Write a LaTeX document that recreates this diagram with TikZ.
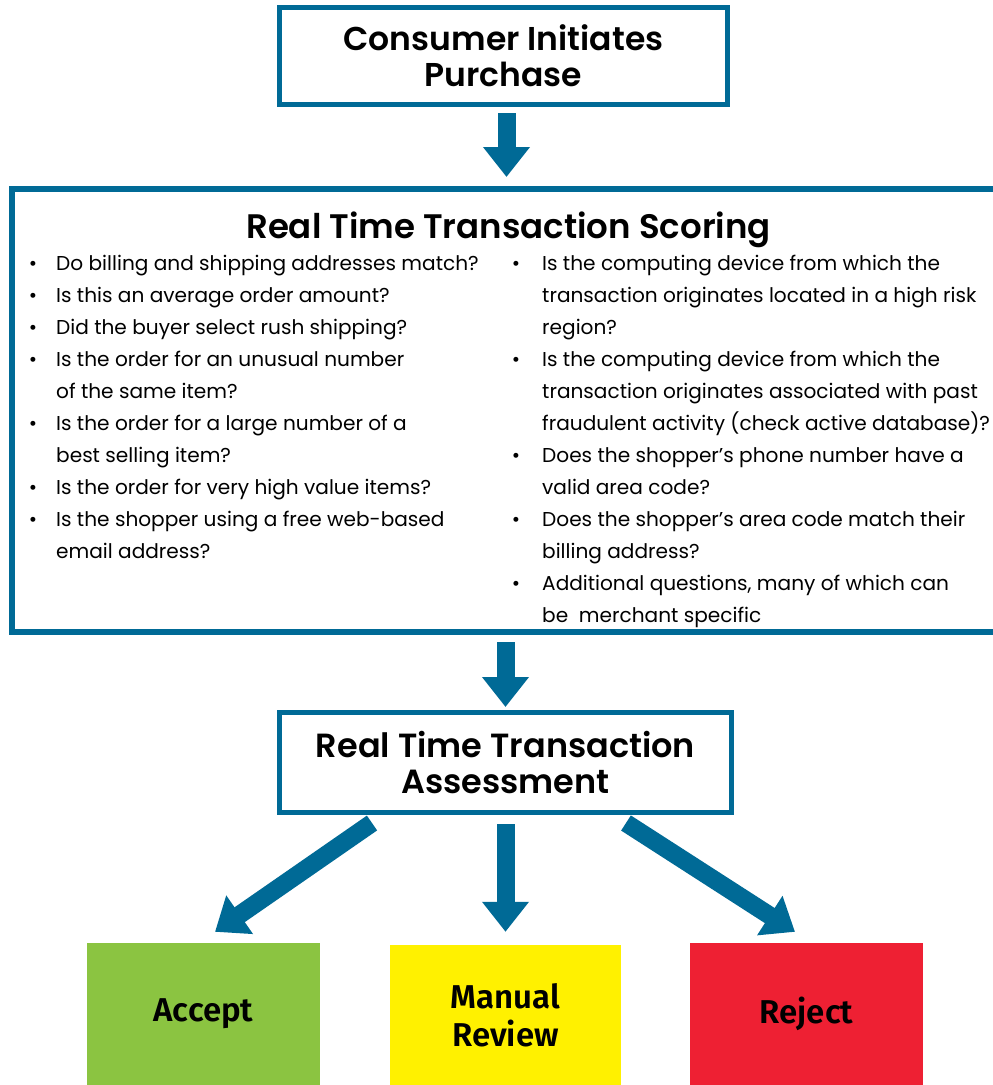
\documentclass[tikz,border=0pt]{standalone}
\usepackage{fontspec}
\setmainfont{Poppins}
\newfontfamily\headfont{Poppins SemiBold}
\newfontfamily\boxfont{Fira Sans SemiBold}
\usetikzlibrary{arrows.meta,calc}
\definecolor{flowblue}{RGB}{0,106,150}
\definecolor{okgreen}{RGB}{139,196,65}
\definecolor{waityellow}{RGB}{255,241,0}
\definecolor{nored}{RGB}{238,32,51}

\begin{document}
\begin{tikzpicture}[x=1pt,y=-1pt,
  framebox/.style={draw=flowblue, line width=5pt, fill=white, inner sep=0pt,
    align=center, font=\headfont\fontsize{33}{36}\selectfont},
  outcome/.style={inner sep=0pt, minimum width=233pt, minimum height=142pt,
    align=center, font=\boxfont\fontsize{33}{38}\selectfont},
  flow/.style={draw=flowblue, line width=18pt, -{Triangle[length=30pt,width=45pt]}},
  item/.style={anchor=base west, inner sep=0pt, font=\fontsize{20.1}{32}\selectfont},
  dot/.style={anchor=base, inner sep=0pt, font=\fontsize{20.1}{32}\selectfont}]

\clip (0,0) rectangle (993,1085);
\fill[white] (0,0) rectangle (993,1085);

% start of the process
\node[framebox, minimum width=448pt, minimum height=97pt] (start) at (503.5,56)
  {Consumer Initiates\\Purchase};

% scoring panel, running off the right edge
\node[draw=flowblue, line width=6pt, inner sep=0pt, minimum width=1000pt,
  minimum height=443pt] (scoring) at (512,410.5) {};
\node[font=\headfont\fontsize{34}{36}\selectfont, anchor=base, inner sep=0pt]
  (scoretitle) at (508.5,238) {Real Time Transaction Scoring};

% left column of questions
\foreach \y/\b/\t [count=\i] in {
  270/1/Do billing and shipping addresses match?,
  302/1/Is this an average order amount?,
  334/1/Did the buyer select rush shipping?,
  366/1/Is the order for an unusual number,
  398/0/of the same item?,
  430/1/Is the order for a large number of a,
  462/0/best selling item?,
  494/1/Is the order for very high value items?,
  526/1/Is the shopper using a free web-based,
  558/0/email address?}
{
  \node[item] (left\i) at (56,\y) {\t};
  \ifnum\b=1 \node[dot] (leftdot\i) at (33,\y) {\textbullet}; \fi
}

% right column of questions
\foreach \y/\b/\t [count=\i] in {
  270/1/Is the computing device from which the,
  302/0/transaction originates located in a high risk,
  334/0/region?,
  366/1/Is the computing device from which the,
  398/0/transaction originates associated with past,
  430/0/fraudulent activity (check active database)?,
  462/1/Does the shopper’s phone number have a,
  494/0/valid area code?,
  526/1/Does the shopper’s area code match their,
  558/0/billing address?,
  590/1/{Additional questions, many of which can},
  622/0/{be\ \ merchant specific}}
{
  \node[item] (right\i) at (542,\y) {\t};
  \ifnum\b=1 \node[dot] (rightdot\i) at (516,\y) {\textbullet}; \fi
}

% assessment
\node[framebox, minimum width=452pt, minimum height=100pt,
  font=\headfont\fontsize{33.5}{36}\selectfont] (assess) at (505.5,762.5)
  {Real Time Transaction\\Assessment};

% outcomes
\node[outcome, fill=okgreen] (accept) at (203.5,1014) {\raisebox{-2pt}{Accept}};
\node[outcome, fill=waityellow, minimum width=231pt, minimum height=140pt]
  (review) at (505.5,1015) {Manual\\Review};
\node[outcome, fill=nored] (reject) at (806.5,1014) {\raisebox{-2pt}{Reject}};

% connectors
\draw[flow] ([xshift=3pt,yshift=-6pt]start.south)
  -- ([xshift=3pt,yshift=9pt]start.south |- scoring.north);
\draw[flow] ([yshift=-7pt]assess.north |- scoring.south) -- ([yshift=3pt]assess.north);
\draw[flow] ($(assess.south)+(-133.5,8)$) -- ($(accept.north)+(11.5,-11)$);
\draw[flow] ([yshift=-9pt]assess.south) -- ([yshift=13pt]review.north);
\draw[flow] ($(assess.south)+(120.5,8)$) -- ($(reject.north)+(-11.5,-11)$);
\end{tikzpicture}
\end{document}
